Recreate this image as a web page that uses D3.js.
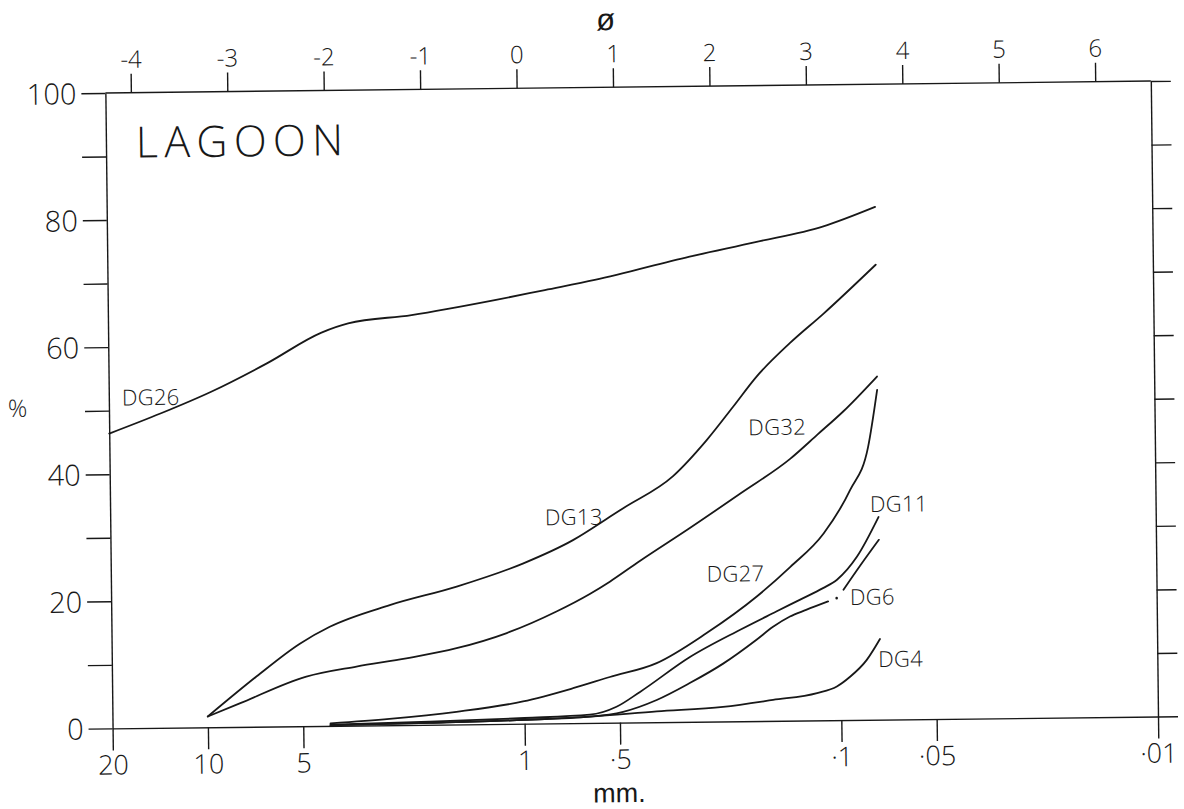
<!DOCTYPE html>
<html><head><meta charset="utf-8">
<script src="https://cdn.jsdelivr.net/npm/d3@7"></script>
<style>body{margin:0;background:#fff}</style>
</head><body>
<svg id="c" width="1184" height="809"></svg>
<script>
// ---------- data ----------
const mmTicks = [20, 10, 5, 1, 0.5, 0.1, 0.05, 0.01];
const mmTickLabels = ["20", "10", "5", "1", "·5", "·1", "·05", "·01"];
const phiTicks = [-4, -3, -2, -1, 0, 1, 2, 3, 4, 5, 6];
const pctTicks = [0, 10, 20, 30, 40, 50, 60, 70, 80, 90, 100];
const pctLabelled = [0, 20, 40, 60, 80, 100];

// [grain size mm, cumulative %]
const dg26 = [[20,46.4],[13.7,49.5],[9.5,52.8],[6.3,57.2],[4.24,61.9],[3.49,63.3],[2.2,64.5],[1.2,66.7],[0.833,68.2],[0.579,69.7],[0.29,73.2],[0.178,75.4],[0.11,77.7],[0.075,80.7]];
const dg13 = [[10,1.7],[7.0,7.9],[5.09,13.0],[4.09,15.6],[2.64,18.9],[1.62,21.7],[1.0,25.2],[0.693,28.8],[0.529,32.4],[0.481,33.7],[0.333,38.7],[0.26,44.3],[0.214,49.5],[0.18,54.2],[0.141,59.4],[0.11,64.0],[0.075,71.6]];
const dg32 = [[10,1.7],[7.92,3.7],[4.87,7.8],[3.38,9.3],[2.35,10.5],[1.63,12.0],[1.13,14.3],[0.786,17.6],[0.616,20.3],[0.532,22.2],[0.427,25.4],[0.296,30.5],[0.205,35.8],[0.142,41.2],[0.116,45.0],[0.096,48.6],[0.075,54.0]];
const dg27 = [[4.1,0.4],[2.67,1.0],[1.64,2.0],[1.01,3.5],[0.701,5.5],[0.536,7.2],[0.381,9.3],[0.265,13.9],[0.183,19.6],[0.143,24.2],[0.112,29.4],[0.092,36.2],[0.0805,42.9],[0.075,51.9]];
const dg11 = [[4.1,0.2],[2.0,0.5],[1.0,0.9],[0.622,1.3],[0.512,2.5],[0.431,4.8],[0.299,10.2],[0.207,14.4],[0.159,17.2],[0.134,19.0],[0.113,20.8],[0.102,22.1],[0.088,25.7],[0.075,31.9]];
const dg6  = [[4.1,0.1],[2.0,0.3],[1.0,0.6],[0.622,1.0],[0.488,1.7],[0.382,3.5],[0.300,6.1],[0.235,9.1],[0.184,12.8],[0.163,14.8],[0.144,16.4],[0.128,17.4],[0.109,18.7],null,[0.0974,20.5],[0.0857,24.4],[0.075,28.3]];
const dg4  = [[4.1,0.1],[2.0,0.3],[1.0,0.6],[0.622,1.0],[0.382,1.7],[0.236,2.3],[0.164,3.3],[0.119,4.3],[0.103,5.3],[0.0935,6.8],[0.0828,9.4],[0.075,12.7]];

const seriesNames = ["DG26", "DG13", "DG32", "DG27", "DG11", "DG6", "DG4"];
const seriesData = [dg26, dg13, dg32, dg27, dg11, dg6, dg4];
// label anchors in data units [mm, %]
const labelAnchors = [[18.2,50.8],[0.848,31.2],[0.192,45.0],[0.263,22.0],[0.0798,32.7],[0.093,18.1],[0.0761,8.3]];
const dg6Dot = [0.1024, 19.2];

// ---------- layout ----------
const L = 109, R = 1154.5, T = 87, B = 722.5;
const ink = "#181818";
const font = "'Open Sans', 'Liberation Sans', Arial, sans-serif";
const font2 = "'Liberation Sans', Arial, sans-serif";
const weight = 300;

const svg = d3.select("#c");
svg.append("rect").attr("width", 1184).attr("height", 809).attr("fill", "#fff");
const g = svg.append("g").attr("transform", "rotate(-0.65,630,410)");

const x = d3.scaleLog().domain([20, 0.01]).range([L, R]);
const xPhi = d3.scaleLinear().domain([-4, 6]).range([134.5, 1098.9]);
const y = d3.scaleLinear().domain([0, 100]).range([B, T]);

function styleAxis(sel, size) {
  sel.selectAll("line,path").attr("stroke", ink).attr("stroke-width", 1.4);
  sel.selectAll("text").attr("fill", ink).attr("font-family", font)
    .attr("font-weight", weight).attr("font-size", size);
}

// top frame line
g.append("line").attr("x1", L).attr("x2", R).attr("y1", T).attr("y2", T)
  .attr("stroke", ink).attr("stroke-width", 1.4);

// left axis
const gl = g.append("g").attr("transform", `translate(${L},0)`)
  .call(d3.axisLeft(y).tickValues(pctTicks).tickSize(24).tickSizeOuter(0).tickPadding(5)
    .tickFormat(d => pctLabelled.includes(d) ? String(d) : ""));
styleAxis(gl, 29);
gl.selectAll("text").attr("dy", "0.36em");

// right axis
const gr = g.append("g").attr("transform", `translate(${R},0)`)
  .call(d3.axisRight(y).tickValues(pctTicks).tickSize(20).tickSizeOuter(0).tickFormat(""));
styleAxis(gr, 10);

// bottom axis (mm)
const gb = g.append("g").attr("transform", `translate(0,${B})`)
  .call(d3.axisBottom(x).tickValues(mmTicks).tickSize(22).tickSizeOuter(0).tickPadding(5)
    .tickFormat((d, i) => mmTickLabels[i]));
styleAxis(gb, 27);

// top axis (phi)
const gt = g.append("g").attr("transform", `translate(0,${T})`)
  .call(d3.axisTop(xPhi).tickValues(phiTicks).tickSize(19).tickPadding(6)
    .tickFormat(d => d < 0 ? "-" + Math.abs(d) : String(d)));
gt.select(".domain").remove();
styleAxis(gt, 24);

// curves
const line = d3.line()
  .defined(d => d != null)
  .x(d => x(d[0])).y(d => y(d[1]))
  .curve(d3.curveMonotoneX);

g.append("g").selectAll("path").data(seriesData).join("path")
  .attr("d", line).attr("fill", "none").attr("stroke", ink)
  .attr("stroke-width", 1.8).attr("stroke-linejoin", "round").attr("stroke-linecap", "round");

// curve labels
g.append("g").selectAll("text").data(seriesNames).join("text")
  .attr("x", (d, i) => x(labelAnchors[i][0]))
  .attr("y", (d, i) => y(labelAnchors[i][1]))
  .attr("font-family", font).attr("font-weight", weight).attr("font-size", 22)
  .attr("letter-spacing", 0.3).attr("fill", ink)
  .text(d => d);

g.append("circle").attr("cx", x(dg6Dot[0])).attr("cy", y(dg6Dot[1])).attr("r", 1.3).attr("fill", ink);

// titles
g.append("text").attr("x", 139).attr("y", 152).attr("font-family", font).attr("font-weight", weight)
  .attr("font-size", 43).attr("letter-spacing", 6.3).attr("fill", ink).text("LAGOON");
g.append("text").attr("x", 610).attr("y", 30).attr("text-anchor", "middle").attr("font-family", font2)
  .attr("font-size", 31).attr("fill", ink).text("ø");
g.append("text").attr("x", 8).attr("y", 410).attr("font-family", font).attr("font-weight", weight)
  .attr("font-size", 24).attr("fill", ink).text("%");
g.append("text").attr("x", 615).attr("y", 802).attr("text-anchor", "middle").attr("font-family", font2)
  .attr("font-size", 27).attr("fill", ink).text("mm.");
</script>
</body></html>
